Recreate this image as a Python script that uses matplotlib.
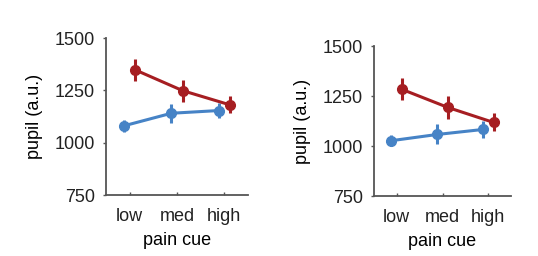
import numpy as np
import matplotlib.pyplot as plt

# --- Data ---
CUES = ['low', 'med', 'high']

left_red = [1348, 1249, 1181]
left_red_err = [54, 52, 41]
left_blue = [1081, 1141, 1154]
left_blue_err = [30, 46, 34]

right_red = [1283, 1193, 1118]
right_red_err = [55, 57, 45]
right_blue = [1027, 1058, 1083]
right_blue_err = [27, 50, 42]

RED = '#a61e22'
BLUE = '#4683c6'
SPINE = '#555555'

plt.rcParams['font.family'] = ['Liberation Sans', 'DejaVu Sans']
plt.rcParams['font.size'] = 13
plt.rcParams['text.color'] = '#222222'

fig = plt.figure(figsize=(5.38, 2.56), dpi=100)


def draw_panel(ax, red, red_err, blue, blue_err):
    x = np.arange(1, len(CUES) + 1)
    off = 0.12
    ax.errorbar(x - off, blue, yerr=blue_err, color=BLUE, lw=2.2,
                marker='o', ms=7, elinewidth=2.2, capsize=0)
    ax.errorbar(x + off, red, yerr=red_err, color=RED, lw=2.2,
                marker='o', ms=7, elinewidth=2.2, capsize=0)
    ax.set_xlim(0.5, 3.5)
    ax.set_ylim(750, 1500)
    ax.set_yticks([750, 1000, 1250, 1500])
    ax.set_xticks(x)
    ax.set_xticklabels(CUES)
    ax.set_xlabel('pain cue', labelpad=5)
    ax.set_ylabel('pupil (a.u.)', labelpad=8)
    for s in ['top', 'right']:
        ax.spines[s].set_visible(False)
    for s in ['left', 'bottom']:
        ax.spines[s].set_color(SPINE)
        ax.spines[s].set_linewidth(1.3)
    ax.tick_params(axis='x', direction='in', length=2, width=1, color=SPINE,
                   pad=9, labelcolor='#222222')
    ax.tick_params(axis='y', direction='out', length=2, width=1, color=SPINE,
                   pad=6, labelcolor='#222222')


ax1 = fig.add_axes([0.197, 0.238, 0.264, 0.613])
draw_panel(ax1, left_red, left_red_err, left_blue, left_blue_err)

ax2 = fig.add_axes([0.695, 0.234, 0.255, 0.586])
draw_panel(ax2, right_red, right_red_err, right_blue, right_blue_err)

fig.savefig('out.png', dpi=100)
